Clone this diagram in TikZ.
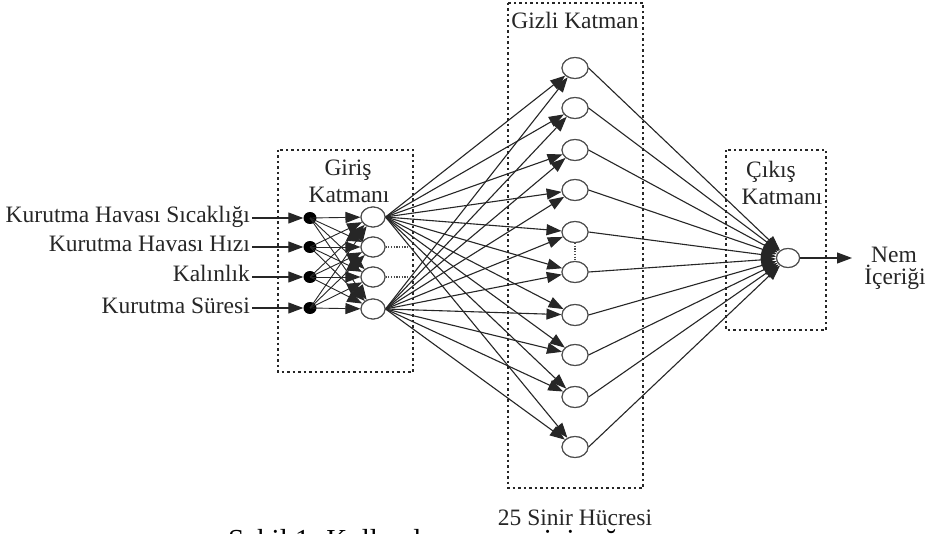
\documentclass[tikz,border=0pt]{standalone}
\usepackage{fontspec}
\setmainfont{Liberation Serif}
\usetikzlibrary{arrows.meta,shapes.geometric}
\begin{document}
\begin{tikzpicture}[x=1pt,y=-1pt,
  txt/.style={font=\fontsize{23.5}{25}\selectfont, text=black!85, inner sep=0pt},
  neuron/.style={ellipse, draw=black!70, line width=1.1pt, fill=white, minimum width=24pt, minimum height=20pt, inner sep=0pt},
  hneuron/.style={neuron, minimum width=26pt, minimum height=21pt},
  dotnode/.style={ellipse, fill=black, minimum width=13pt, minimum height=12pt, inner sep=0pt},
  arr/.style={draw=black!85, line width=1.1pt, -{Triangle[length=15pt,width=11pt]}},
  layerbox/.style={draw=black!85, line width=1.8pt, dash pattern=on 2.5pt off 3pt},
  cont/.style={draw=black!70, line width=1.3pt, dash pattern=on 1.2pt off 1.5pt}
]
\useasboundingbox (0,0) rectangle (925,534);
\fill[white] (0,0) rectangle (925,534);

% layer boxes
\draw[layerbox] (278,150) rectangle (413,372);
\draw[layerbox] (508,3) rectangle (643,488);
\draw[layerbox] (726,150) rectangle (826,330);

% box labels
\node[txt] (gir1) at (348,170) {Giriş};
\node[txt] (gir2) at (349,195) {Katmanı};
\node[txt] (giz) at (575,20) {Gizli Katman};
\node[txt, anchor=base] (sinir) at (575,525) {25 Sinir Hücresi};
\node[txt] (cik1) at (771,172) {Çıkış};
\node[txt] (cik2) at (782,197) {Katmanı};
\node[txt] (nem1) at (894,255) {Nem};
\node[txt] (nem2) at (895,277) {İçeriği};

% input labels
\node[txt, anchor=base east] (l1) at (250,223) {Kurutma Havası Sıcaklığı};
\node[txt, anchor=base east] (l2) at (250,252) {Kurutma Havası Hızı};
\node[txt, anchor=base east] (l3) at (250,282) {Kalınlık};
\node[txt, anchor=base east] (l4) at (250,313) {Kurutma Süresi};

% dots
\node[dotnode] (d1) at (310,218) {};
\node[dotnode] (d2) at (310,247) {};
\node[dotnode] (d3) at (310,277) {};
\node[dotnode] (d4) at (310,308) {};

% input neurons
\node[neuron] (n1) at (373,217) {};
\node[neuron] (n2) at (373,247) {};
\node[neuron] (n3) at (373,277) {};
\node[neuron] (n4) at (373,309) {};

% hidden neurons
\foreach \i/\y in {1/68,2/108,3/150,4/190,5/232,6/272,7/315,8/355,9/397,10/447}
  \node[hneuron] (h\i) at (575,\y) {};

% output neuron
\node[neuron, minimum width=23pt, minimum height=19pt] (o) at (788,258) {};
\coordinate (out) at (852,258);

% label -> dot
\foreach \i in {1,...,4}
  \draw[arr] ([xshift=2pt]l\i.east |- d\i.center) -- (d\i.west);

% dot -> input neurons
\foreach \i in {1,...,4}
  \foreach \j in {1,...,4}
    \draw[arr, line width=0.9pt] (d\i.center) -- (n\j);

% input -> hidden
\foreach \k in {1,...,10} {
  \draw[arr] (n1.east) -- (h\k);
  \draw[arr] (n4.east) -- (h\k);
}

% hidden -> output
\foreach \k in {1,...,10}
  \draw[arr] (h\k.east) -- (o);

% output arrow
\draw[arr] (o.east) -- (out);

% continuation dots
\draw[cont] (n2.east) -- (412,247);
\draw[cont] (n3.east) -- (412,277);
\draw[cont] (h5.south) -- (h6.north);

% redraw neurons on top
\foreach \i in {1,...,4} \node[neuron] at (n\i) {};
\foreach \i in {1,...,10} \node[hneuron] at (h\i) {};
\node[neuron, minimum width=23pt, minimum height=19pt] at (o) {};

% cut caption
\begin{scope}
\clip (0,0) rectangle (925,534);
\node[anchor=base west, inner sep=0pt, font=\fontsize{29}{31}\selectfont] (cap) at (228,549) {Şekil 1. Kullanılan yapay sinir ağı};
\end{scope}
\end{tikzpicture}
\end{document}
